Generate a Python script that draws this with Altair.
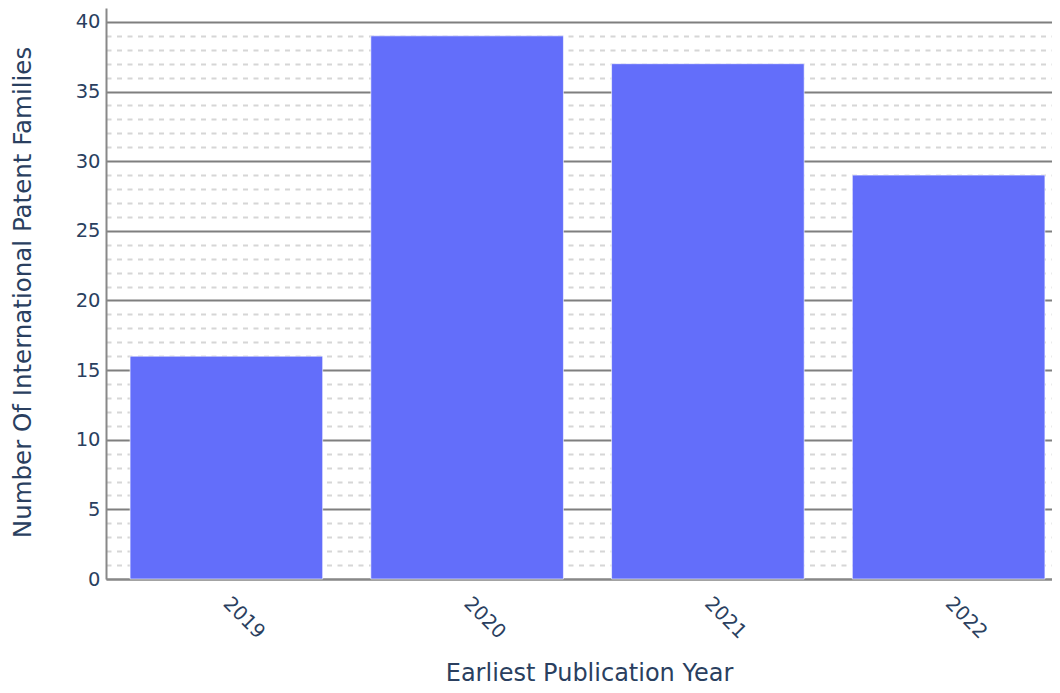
import altair as alt
import pandas as pd

years = ["2019", "2020", "2021", "2022"]
counts = [16, 39, 37, 29]

df = pd.DataFrame({"year": years, "count": counts})

font = "DejaVu Sans"
text_color = "#2a3f5f"

W, H = 946, 571
FULL_W = 963

is_major = "datum.value % 5 === 0"

chart = alt.Chart(df).mark_bar(
    color="#636efa", stroke="#ffffff", strokeWidth=1, strokeOpacity=0.6
).encode(
    x=alt.X(
        "year:N",
        scale=alt.Scale(paddingInner=0.2, paddingOuter=0.1, range=[0, FULL_W]),
        axis=alt.Axis(
            title="Earliest Publication Year",
            labelAngle=45,
            labelAlign="left",
            labelBaseline="middle",
            labelPadding=21,
            labelFontSize=19.5,
            labelColor=text_color,
            labelFont=font,
            ticks=False,
            domainColor="#888888",
            domainWidth=2,
            grid=False,
            titleFontSize=24,
            titleFontWeight="normal",
            titleColor=text_color,
            titleFont=font,
            titleX=589 - 106,
            titleY=101,
            titleBaseline="alphabetic",
            titleAlign="center",
        ),
    ),
    y=alt.Y(
        "count:Q",
        scale=alt.Scale(domain=[0, 41], nice=False),
        axis=alt.Axis(
            title="Number Of International Patent Families",
            values=list(range(0, 41)),
            labelExpr="datum.value % 5 === 0 ? datum.label : ''",
            labelFontSize=19.5,
            labelColor=text_color,
            labelFont=font,
            labelPadding=6,
            ticks=False,
            domainColor="#888888",
            domainWidth=2,
            grid=True,
            gridColor={"condition": {"test": is_major, "value": "#7f7f7f"}, "value": "#d6d6d6"},
            gridWidth={"condition": {"test": is_major, "value": 2}, "value": 2},
            gridDash={"condition": {"test": is_major, "value": []}, "value": [5, 5.5]},
            titleFontSize=24.5,
            titleFontWeight="normal",
            titleColor=text_color,
            titleFont=font,
            titleAngle=270,
            titleX=-83,
            titleY=284,
            titleBaseline="middle",
            titleAlign="center",
        ),
    ),
).properties(
    width=W,
    height=H,
    autosize=alt.AutoSizeParams(type="none"),
    padding={"left": 98, "top": 0, "right": 0, "bottom": 106},
).configure_view(stroke=None)

chart.save("out.html", embed_options={"renderer": "svg", "actions": False})
